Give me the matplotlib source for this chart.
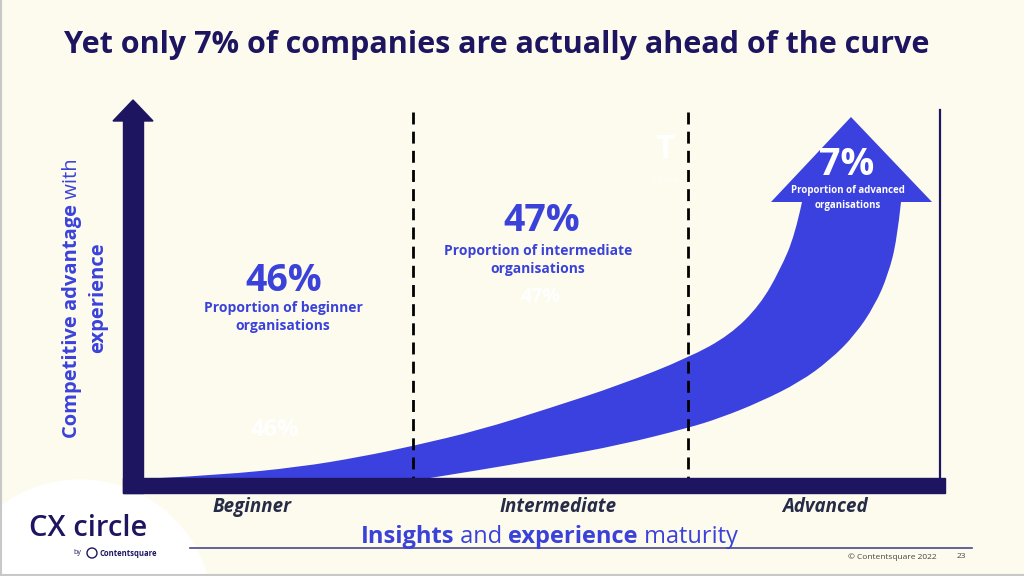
import numpy as np
import matplotlib
matplotlib.use('Agg')
import matplotlib.pyplot as plt
from matplotlib.path import Path
from matplotlib.patches import PathPatch, Polygon, Rectangle, Circle

plt.rcParams['font.family'] = ['Open Sans', 'DejaVu Sans']

# data
categories = ['Beginner', 'Intermediate', 'Advanced']
shares = [46, 47, 7]
share_text = ['Proportion of beginner\norganisations',
              'Proportion of intermediate\norganisations',
              'Proportion of advanced\norganisations']
# curved arrow edges (pixel positions)
upper_x = [160, 220, 300, 360, 413, 480, 550, 620, 688, 730, 760, 780, 795, 802]
upper_y = [478, 475, 467, 457, 446, 430, 408, 385, 358, 335, 305, 270, 235, 202]
lower_x = [901, 897, 888, 875, 855, 830, 800, 760, 720, 688, 620, 550, 480, 430]
lower_y = [202, 240, 275, 305, 335, 360, 382, 402, 418, 428, 445, 458, 470, 478]
head_x = [771, 851, 932]
head_y = [202, 117, 202]

BG = '#FDFBEE'
NAVY = '#1D1560'
BLUE = '#3B41DE'
TXTBLUE = '#3A42DA'
DARK = '#262B48'


def smooth_path(xs, ys):
    # quadratic curves through the midpoints of the listed points
    pts = list(zip(xs, ys))
    verts = [pts[0]]
    codes = [Path.MOVETO]
    for i in range(1, len(pts) - 1):
        mid = ((pts[i][0] + pts[i + 1][0]) / 2, (pts[i][1] + pts[i + 1][1]) / 2)
        if i == len(pts) - 2:
            mid = pts[i + 1]
        verts += [pts[i], mid]
        codes += [Path.CURVE3, Path.CURVE3]
    return verts, codes


fig = plt.figure(figsize=(10.24, 5.76), dpi=100)
fig.patch.set_facecolor(BG)
ax = fig.add_axes([0, 0, 1, 1])
ax.set_xlim(0, 1024)
ax.set_ylim(576, 0)
ax.axis('off')

# white blob behind logo
ax.add_patch(Circle((80, 612), 132, color='white', zorder=1))
ax.plot([1, 1], [0, 576], color='#C8C8C8', lw=1.5, zorder=2)
ax.plot([0, 1024], [575, 575], color='#C8C8C8', lw=1.5, zorder=2)

# title
ax.text(497, 45, 'Yet only 7% of companies are actually ahead of the curve',
        ha='center', va='center', fontsize=22, fontweight='bold', color=NAVY)

# curved arrow
v1, c1 = smooth_path(upper_x, upper_y)
v2, c2 = smooth_path(lower_x, lower_y)
c2[0] = Path.LINETO
verts = v1 + v2 + [(upper_x[0], upper_y[0])]
codes = c1 + c2 + [Path.LINETO]
ax.add_patch(PathPatch(Path(verts, codes), facecolor=BLUE, edgecolor='none', zorder=3))
ax.add_patch(Polygon(list(zip(head_x, head_y)), closed=True, facecolor=BLUE,
                     edgecolor='none', zorder=3))

# axes arrows
ax.add_patch(Rectangle((123, 120), 20, 373, color=NAVY, zorder=5))
ax.add_patch(Polygon([(113, 121), (153, 121), (133, 100)], color=NAVY, zorder=5))
ax.add_patch(Rectangle((123, 478), 822, 15, color=NAVY, zorder=5))
ax.plot([940, 940], [110, 478], color=NAVY, lw=1.6, zorder=4)

# dashed section borders
for xb in [413, 688]:
    ax.plot([xb, xb], [112, 478], color='black', lw=2, linestyle=(0, (4.3, 2.6)), zorder=4)

# faint background marks
ax.text(275, 430, '46%', ha='center', va='center', fontsize=17, fontweight='bold',
        color='white', zorder=2)
ax.text(541, 297, '47%', ha='center', va='center', fontsize=14, fontweight='bold',
        color='white', zorder=2)
ax.text(665, 150, 'T', ha='center', va='center', fontsize=24, fontweight='bold',
        color='white', zorder=2)
ax.text(665, 181, 'T E S L A', ha='center', va='center', fontsize=4.5, color='white', zorder=2)

# share annotations
pct_pos = [(284, 281), (542, 221), (847, 165)]
sub_pos = [(283, 317), (538, 260), (848, 198)]
for i in range(3):
    col = 'white' if i == 2 else TXTBLUE
    ax.text(pct_pos[i][0], pct_pos[i][1], f'{shares[i]}%', ha='center', va='center',
            fontsize=27, fontweight='bold', color=col, zorder=6)
    ax.text(sub_pos[i][0], sub_pos[i][1], share_text[i], ha='center', va='center',
            fontsize=7 if i == 2 else 10, fontweight='bold', color=col,
            linespacing=1.6 if i == 2 else 1.35, zorder=6)

# category labels
for cx, lab in zip([252, 558, 825], categories):
    ax.text(cx, 507, lab, ha='center', va='center', fontsize=13.5, fontweight='bold',
            fontstyle='italic', color=DARK)

fig.canvas.draw()
renderer = fig.canvas.get_renderer()

# x axis title with mixed weights
pieces = [('Insights', 'bold'), (' and ', 'normal'), ('experience', 'bold'), (' maturity', 'normal')]
objs = [ax.text(0, 537, s, ha='left', va='center', fontsize=17, fontweight=w, color=TXTBLUE)
        for s, w in pieces]
widths = [t.get_window_extent(renderer).width for t in objs]
x0 = 549 - sum(widths) / 2
for t, w in zip(objs, widths):
    t.set_x(x0)
    x0 += w

# y axis title with mixed weights (rotated, reading bottom to top)
ypieces = [('Competitive advantage', 'bold'), (' with', 'normal')]
yobjs = [ax.text(72, 0, s, ha='left', va='center', rotation=90, fontsize=14.5,
                 fontweight=w, color=TXTBLUE, rotation_mode='anchor') for s, w in ypieces]
heights = [t.get_window_extent(renderer).height for t in yobjs]
y0 = 298 + sum(heights) / 2
for t, h in zip(yobjs, heights):
    t.set_y(y0)
    y0 -= h
ax.text(98, 298, 'experience', ha='center', va='center', rotation=90, fontsize=14.5,
        fontweight='bold', color=TXTBLUE)

# footer
ax.plot([190, 972], [548, 548], color='#4A4888', lw=1.2)
ax.text(937, 557, '\u00a9 Contentsquare 2022', ha='right', va='center', fontsize=6, color='#444444')
ax.text(966, 557, '23', ha='right', va='center', fontsize=6, color='#444444')

# logo
ax.text(88, 528, 'CX circle', ha='center', va='center', fontsize=21, fontweight='semibold',
        color=NAVY, zorder=6)
ax.text(77, 553, 'by', ha='center', va='center', fontsize=5, color=NAVY, zorder=6)
ax.add_patch(Circle((92, 553), 5, fill=False, edgecolor=NAVY, lw=1, zorder=6))
ax.text(99, 553, 'Contentsquare', ha='left', va='center', fontsize=5.5, fontweight='bold',
        color=NAVY, zorder=6)

fig.savefig('out.png', dpi=100, facecolor=BG)
